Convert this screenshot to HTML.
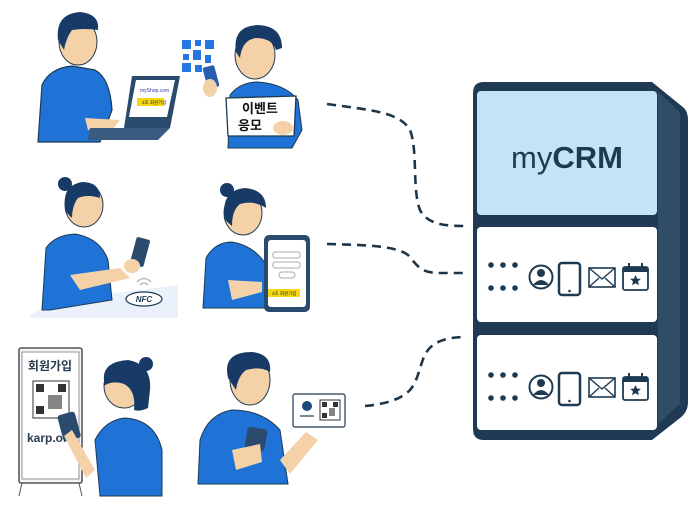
<!DOCTYPE html>
<html><head><meta charset="utf-8"><style>
html,body{margin:0;padding:0;background:#fff;width:696px;height:511px;overflow:hidden}
svg{display:block}
text{font-family:"Liberation Sans","Noto Sans CJK KR",sans-serif}
</style></head><body>
<svg width="696" height="511" viewBox="0 0 696 511" xmlns="http://www.w3.org/2000/svg">
<defs>
<g id="icons">
  <g fill="#1d3a52">
    <circle cx="491" cy="265" r="2.8"/><circle cx="503" cy="265" r="2.8"/><circle cx="515" cy="265" r="2.8"/>
    <circle cx="491" cy="288" r="2.8"/><circle cx="503" cy="288" r="2.8"/><circle cx="515" cy="288" r="2.8"/>
  </g>
  <circle cx="541" cy="277" r="11.5" fill="#fff" stroke="#1d3a52" stroke-width="2"/>
  <circle cx="541" cy="273" r="4" fill="#1d3a52"/>
  <path d="M533 285 q8 -10 16 0 z" fill="#1d3a52"/>
  <rect x="559" y="263" width="21" height="32" rx="3" fill="#fff" stroke="#1d3a52" stroke-width="2.5"/>
  <circle cx="569.5" cy="291" r="1.3" fill="#1d3a52"/>
  <rect x="589" y="268" width="26" height="19" fill="#fff" stroke="#1d3a52" stroke-width="1.6"/>
  <path d="M589 268 l13 11 l13 -11 M589 287 l10 -9 M615 287 l-10 -9" fill="none" stroke="#1d3a52" stroke-width="1.4"/>
  <rect x="623" y="267" width="25" height="23" rx="2" fill="#fff" stroke="#1d3a52" stroke-width="1.8"/>
  <rect x="623" y="267" width="25" height="5" fill="#1d3a52"/>
  <path d="M629 263v6M642 263v6" stroke="#1d3a52" stroke-width="2"/>
  <path d="M635.5 275 l1.6 3.6 3.8 .3 -2.9 2.5 .9 3.8 -3.4 -2 -3.4 2 .9 -3.8 -2.9 -2.5 3.8 -.3z" fill="#1d3a52"/>
</g>
</defs>

<!-- server -->
<path d="M484 82 H652 L684 108 Q688 112 688 120 V402 Q688 412 680 418 L652 440 H484 Q473 440 473 429 V93 Q473 82 484 82Z" fill="#1f3a52"/>
<path d="M658 92 L680 112 V404 L658 424Z" fill="#2f4d66"/>
<rect x="477" y="91" width="180" height="124" rx="4" fill="#c3e4f4"/>
<rect x="477" y="227" width="180" height="95" rx="4" fill="#fff"/>
<rect x="477" y="335" width="180" height="95" rx="4" fill="#fff"/>
<text x="567" y="168" text-anchor="middle" font-size="31" fill="#1d3a52">my<tspan font-weight="bold">CRM</tspan></text>
<use href="#icons"/>
<use href="#icons" y="110"/>

<!-- dashed connectors -->
<g fill="none" stroke="#1d3547" stroke-width="2.6" stroke-dasharray="9 6">
<path d="M327 104 C370 110 400 112 410 130 C418 150 412 190 420 210 C428 226 450 226 466 226"/>
<path d="M327 244 C360 245 395 245 408 255 C418 266 420 273 440 273 L466 273"/>
<path d="M365 406 C385 404 400 400 410 390 C420 378 420 360 428 350 C436 340 450 337 466 337"/>
</g>

<!-- Row 1 person 1 (laptop) -->
<path d="M38 142 L42 85 Q50 68 72 66 L95 70 Q110 78 112 110 L100 142Z" fill="#1f73d6" stroke="#1d3a52" stroke-width="1.2"/>
<ellipse cx="78" cy="42" rx="19" ry="23" fill="#f5d1a8" stroke="#1d3a52" stroke-width="1"/>
<path d="M58 40 Q55 14 80 12 Q100 14 98 30 Q85 28 72 30 Q66 38 64 50Z" fill="#173b66"/>
<path d="M85 118 L120 120 L112 130 L88 130Z" fill="#f5d1a8"/>
<path d="M132 76 L180 76 L170 128 L124 128Z" fill="#2a4a6e"/>
<path d="M136 80 L175 80 L167 117 L129 117Z" fill="#fff"/>
<text x="140" y="92" font-size="5" fill="#33a">myShop.com</text>
<rect x="137" y="98" width="27" height="8" fill="#f4d712"/>
<text x="142" y="104" font-size="4.5" fill="#222">3초 회원가입</text>
<path d="M90 128 L170 128 L158 140 L88 140Z" fill="#3a5a80"/>

<!-- Row 1 person 2 -->
<g fill="#2277e0">
<rect x="182" y="40" width="9" height="9"/><rect x="195" y="40" width="6" height="6"/><rect x="205" y="40" width="9" height="9"/>
<rect x="183" y="54" width="6" height="6"/><rect x="193" y="50" width="8" height="10"/><rect x="205" y="55" width="6" height="8"/>
<rect x="182" y="63" width="9" height="9"/><rect x="195" y="65" width="7" height="7"/>
</g>
<path d="M228 148 L230 95 Q240 82 258 82 Q285 84 298 100 L302 130 L292 148Z" fill="#1f73d6" stroke="#1d3a52" stroke-width="1"/>
<ellipse cx="255" cy="55" rx="20" ry="24" fill="#f5d1a8" stroke="#1d3a52" stroke-width="1"/>
<path d="M236 52 Q232 26 258 25 Q282 26 282 48 L276 50 Q272 38 256 38 Q242 40 240 58Z" fill="#173b66"/>
<rect x="205" y="66" width="12" height="22" rx="2" fill="#2a5fb0" transform="rotate(-15 211 77)"/>
<ellipse cx="210" cy="88" rx="7" ry="9" fill="#f5d1a8"/>
<path d="M226 98 L296 96 L294 136 L228 136Z" fill="#fff" stroke="#1d3a52" stroke-width="1.3"/>
<text x="260" y="113" text-anchor="middle" font-size="13" font-weight="bold" fill="#111">이벤트</text>
<text x="250" y="130" text-anchor="middle" font-size="13" font-weight="bold" fill="#111">응모</text>
<ellipse cx="283" cy="128" rx="10" ry="7" fill="#f5d1a8"/>

<!-- Row 2 woman 1 NFC -->
<path d="M30 315 L60 300 L178 285 L178 318 L30 318Z" fill="#eaf1fa"/>
<path d="M42 310 L46 248 Q55 235 75 234 Q100 238 108 260 L112 300 L50 310Z" fill="#1f73d6" stroke="#1d3a52" stroke-width="1"/>
<ellipse cx="84" cy="205" rx="19" ry="22" fill="#f5d1a8" stroke="#1d3a52" stroke-width="1"/>
<path d="M66 212 Q60 186 82 182 Q100 182 100 198 Q88 194 78 198 Q72 206 72 218Z" fill="#173b66"/>
<circle cx="65" cy="184" r="7" fill="#173b66"/>
<path d="M70 275 L120 268 L130 278 L80 290Z" fill="#f5d1a8"/>
<rect x="133" y="238" width="14" height="28" rx="2" fill="#2a4a6e" transform="rotate(15 140 252)"/>
<ellipse cx="132" cy="266" rx="8" ry="7" fill="#f5d1a8"/>
<ellipse cx="144" cy="299" rx="18" ry="7" fill="#fff" stroke="#1d3a52" stroke-width="1.2"/>
<text x="144" y="302" text-anchor="middle" font-size="8" font-style="italic" font-weight="bold" fill="#1d3a52">NFC</text>
<path d="M140 285 q4 -4 8 0 M137 282 q7 -7 14 0" fill="none" stroke="#bbb" stroke-width="1.5"/>

<!-- Row 2 woman 2 tablet -->
<path d="M203 308 L206 258 Q215 242 232 242 Q256 246 268 268 L270 308Z" fill="#1f73d6" stroke="#1d3a52" stroke-width="1"/>
<ellipse cx="243" cy="213" rx="19" ry="22" fill="#f5d1a8" stroke="#1d3a52" stroke-width="1"/>
<path d="M225 220 Q220 190 245 188 Q266 190 266 208 Q254 200 240 204 Q232 210 232 226Z" fill="#173b66"/>
<circle cx="227" cy="190" r="7" fill="#173b66"/>
<rect x="264" y="235" width="46" height="77" rx="5" fill="#2a4a6e"/>
<rect x="268" y="240" width="38" height="67" rx="3" fill="#fff"/>
<rect x="273" y="252" width="27" height="6" rx="2" fill="none" stroke="#aaa"/>
<rect x="273" y="262" width="27" height="6" rx="2" fill="none" stroke="#aaa"/>
<rect x="279" y="272" width="16" height="6" rx="3" fill="none" stroke="#aaa"/>
<rect x="268" y="289" width="32" height="8" fill="#f4d712"/>
<text x="272" y="295" font-size="4.5" fill="#222">3초 회원가입</text>
<path d="M228 280 L262 282 L262 292 L232 300Z" fill="#f5d1a8"/>

<!-- Row 3 standee -->
<rect x="19" y="348" width="63" height="135" rx="2" fill="#f3f6fb" stroke="#333" stroke-width="1.3"/>
<rect x="22" y="352" width="57" height="127" fill="#fff" stroke="#777" stroke-width=".8"/>
<text x="50" y="370" text-anchor="middle" font-size="12" font-weight="bold" fill="#2a3a4e">회원가입</text>
<rect x="33" y="381" width="36" height="37" fill="#fff" stroke="#333"/>
<g fill="#333"><rect x="36" y="384" width="8" height="8"/><rect x="58" y="384" width="8" height="8"/><rect x="36" y="406" width="8" height="8"/><rect x="48" y="395" width="14" height="14" opacity=".6"/></g>
<text x="27" y="442" font-size="12" font-weight="bold" fill="#2a3a4e">karp.or</text>
<path d="M22 483 L19 496 M79 483 L82 496" stroke="#555"/>
<path d="M100 496 L95 440 Q105 420 125 418 Q155 420 162 450 L162 496Z" fill="#1f73d6" stroke="#1d3a52" stroke-width="1"/>
<ellipse cx="124" cy="386" rx="20" ry="22" fill="#f5d1a8" stroke="#1d3a52" stroke-width="1"/>
<path d="M104 380 Q102 362 128 360 Q152 364 150 390 L148 408 Q140 412 134 410 Q136 390 124 384 Q112 380 104 386Z" fill="#173b66"/>
<circle cx="146" cy="364" r="7" fill="#173b66"/>
<rect x="60" y="413" width="18" height="27" rx="3" fill="#2a4a6e" transform="rotate(-15 69 426)"/>
<path d="M64 436 L72 430 L95 470 L86 478Z" fill="#f5d1a8"/>

<!-- Row 3 man card -->
<path d="M198 484 L200 440 Q208 414 232 410 Q262 410 280 430 L288 484Z" fill="#1f73d6" stroke="#1d3a52" stroke-width="1"/>
<ellipse cx="250" cy="380" rx="20" ry="25" fill="#f5d1a8" stroke="#1d3a52" stroke-width="1"/>
<path d="M228 378 Q222 352 252 352 Q272 354 270 372 Q260 366 246 370 Q238 376 236 390Z" fill="#173b66"/>
<rect x="246" y="428" width="20" height="22" rx="3" fill="#2a4a6e" transform="rotate(10 256 439)"/>
<path d="M232 450 L260 444 L262 462 L236 470Z" fill="#f5d1a8"/>
<path d="M280 460 L306 432 L318 440 L290 474Z" fill="#f5d1a8"/>
<rect x="293" y="394" width="52" height="33" rx="2" fill="#fff" stroke="#1d3a52" stroke-width="1.2"/>
<circle cx="307" cy="406" r="5" fill="#1d4a7a"/>
<path d="M300 416 h14" stroke="#1d3a52" stroke-width="1.2"/>
<rect x="320" y="400" width="20" height="20" fill="#fff" stroke="#333"/>
<g fill="#333"><rect x="322" y="402" width="5" height="5"/><rect x="333" y="402" width="5" height="5"/><rect x="322" y="413" width="5" height="5"/><rect x="329" y="408" width="6" height="8" opacity=".6"/></g>
</svg>
</body></html>
